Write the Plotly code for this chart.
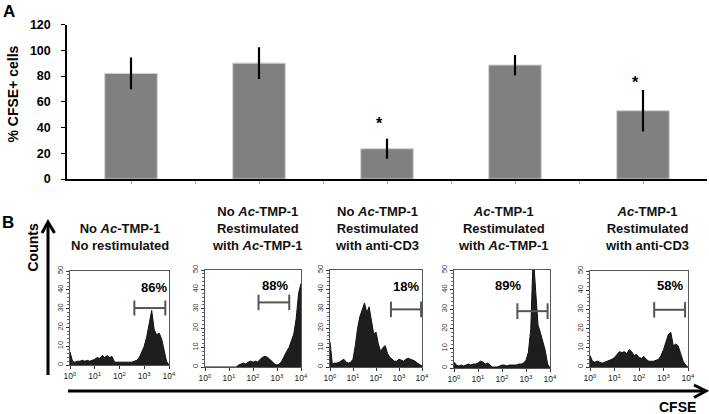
import plotly.graph_objects as go

W, H = 709, 414
FONT = "Arial, Liberation Sans, sans-serif"

# ---------------- Panel A data ----------------
groups = ["No Ac-TMP-1 / No restimulated",
          "No Ac-TMP-1 / Restimulated with Ac-TMP-1",
          "No Ac-TMP-1 / Restimulated with anti-CD3",
          "Ac-TMP-1 / Restimulated with Ac-TMP-1",
          "Ac-TMP-1 / Restimulated with anti-CD3"]
group_pos = [0, 1, 2, 3, 4]
pct_cfse = [82, 90, 23.5, 88.5, 53]
pct_err = [12.3, 12.3, 7.8, 7.9, 16.2]
star_level = [None, None, 43, None, 75]

# ---------------- Panel B data ----------------
cfse_log10 = [0.0, 0.1, 0.2, 0.3, 0.4, 0.5, 0.6, 0.7, 0.8, 0.9,
              1.0, 1.1, 1.2, 1.3, 1.4, 1.5, 1.6, 1.7, 1.8, 1.9,
              2.0, 2.1, 2.2, 2.3, 2.4, 2.5, 2.6, 2.7, 2.8, 2.9,
              3.0, 3.1, 3.2, 3.3, 3.4, 3.5, 3.6, 3.7, 3.8, 3.9, 4.0]
counts_p1 = [7, 2, 1.5, 2, 2, 2.5, 2, 2.5, 2, 2.5,
             3, 4, 3.5, 5, 4, 5, 4, 4.5, 1.5, 1.5,
             1.5, 1.5, 1.5, 1.5, 1.5, 1.5, 2, 2.5, 4, 7,
             10, 15, 22, 29, 19, 16, 17, 14, 8, 2, 0]
counts_p2 = [0, 0, 0, 0, 0, 0, 0, 0, 0, 0,
             0, 0, 0, 0, 1, 1.5, 2, 1.5, 2.5, 3,
             2.5, 3, 2.5, 4, 5, 5.5, 5, 4, 2.5, 1.5,
             1, 1.5, 3, 6, 8, 10, 14, 17, 25, 38, 43]
counts_p3 = [13, 1.5, 2, 2, 2.5, 3.5, 4, 2.5, 2, 2.5,
             4, 11, 20, 26, 30, 33, 28, 31, 24, 17,
             18, 12, 8, 10, 11, 7, 5, 4, 3, 3,
             4, 3.5, 3, 4, 4.5, 4, 3.5, 3, 2, 1, 0.5]
counts_p4 = [3, 1.5, 1, 1.5, 1, 1.5, 2, 1.5, 2, 2,
             2.5, 3.5, 3, 2, 2.5, 1.5, 0.5, 0.5, 0.5, 1,
             1.5, 1.5, 1, 1.5, 1.5, 1.5, 1.5, 2, 2, 2.5,
             4, 8, 20, 58, 40, 22, 18, 14, 9, 2, 0]
counts_p5 = [6, 3, 2.5, 3, 2.5, 2, 2.5, 3, 3.5, 4,
             5, 6.5, 8, 7.5, 8, 7, 9, 8, 6, 6.5,
             5, 4.5, 5.5, 4, 3, 3, 3, 3.5, 4, 6,
             9, 13, 17, 18, 11, 12, 11, 7, 3, 1, 0]
hist_counts = [counts_p1, counts_p2, counts_p3, counts_p4, counts_p5]

gate_lo = [2.6, 2.23, 2.65, 2.64, 2.62]
gate_hi = [3.85, 3.51, 3.96, 3.9, 3.88]
gate_level = [30.3, 33.3, 29.7, 29.0, 29.8]
gate_pct = ["86%", "88%", "18%", "89%", "58%"]
panel_titles = ["No <i>Ac</i>-TMP-1<br>No restimulated",
                "No <i>Ac</i>-TMP-1<br>Restimulated<br>with <i>Ac</i>-TMP-1",
                "No <i>Ac</i>-TMP-1<br>Restimulated<br>with anti-CD3",
                "<i>Ac</i>-TMP-1<br>Restimulated<br>with <i>Ac</i>-TMP-1",
                "<i>Ac</i>-TMP-1<br>Restimulated<br>with anti-CD3"]
decade_ticks = [0, 1, 2, 3, 4]
decade_text = ["10<sup>0</sup>", "10<sup>1</sup>", "10<sup>2</sup>", "10<sup>3</sup>", "10<sup>4</sup>"]
count_ticks = [0, 10, 20, 30, 40, 50]

# ---------------- layout geometry (pixels) ----------------
def px(x):
    return x / W

def py(y):
    return 1 - y / H

panel_x = [(70, 169), (205, 301), (330, 422), (454, 550), (590, 688)]
panel_y = [(271, 365), (270, 367), (270, 367), (270, 368), (271, 367)]
title_cx = [120, 257, 377, 503, 647]
pct_xy = [(154, 287), (275, 285), (406, 286), (508, 285), (670, 285)]

fig = go.Figure()

# Panel A bars
fig.add_trace(go.Bar(
    x=group_pos, y=pct_cfse, width=0.41,
    marker=dict(color="#808080", line=dict(color="#cfcfcf", width=1)),
    error_y=dict(type="data", array=pct_err, visible=True, thickness=2.2, width=0, color="#000"),
    hovertext=groups, showlegend=False, xaxis="x", yaxis="y"))

annotations = []
for i, s in enumerate(star_level):
    if s is not None:
        annotations.append(dict(x=group_pos[i] - 0.06, y=s, xref="x", yref="y", text="<b>*</b>",
                                showarrow=False, font=dict(family=FONT, size=16, color="#000"),
                                xanchor="center", yanchor="middle"))

layout = dict(
    template="none",
    width=W, height=H, margin=dict(l=0, r=0, t=0, b=0, autoexpand=False),
    paper_bgcolor="white", plot_bgcolor="white", showlegend=False,
    font=dict(family=FONT),
    xaxis=dict(domain=[px(67), px(707)], range=[-0.5, 4.5], showline=True, linecolor="#000", linewidth=2,
               tickvals=[0, 0.5, 1, 1.5, 2, 2.5, 3, 3.5, 4], ticks="outside", ticklen=3, tickcolor="#aaa",
               showticklabels=False, showgrid=False, zeroline=False, anchor="y", automargin=False),
    yaxis=dict(domain=[py(179), py(24.5)], range=[0, 120], dtick=20, showline=True, linecolor="#000",
               linewidth=1.5, ticks="outside", ticklen=4, tickcolor="#000", showgrid=False, zeroline=False,
               tickfont=dict(family=FONT, size=12.5, color="#000", weight="bold"), ticklabelstandoff=8,
               anchor="x", automargin=False),
)

shapes = []
for k in range(5):
    xa = "xaxis%d" % (k + 2)
    ya = "yaxis%d" % (k + 2)
    xr = "x%d" % (k + 2)
    yr = "y%d" % (k + 2)
    fig.add_trace(go.Scatter(x=cfse_log10, y=hist_counts[k], mode="lines", fill="tozeroy",
                             line=dict(color="#111", width=1), fillcolor="#1e1e1e",
                             xaxis=xr, yaxis=yr, showlegend=False))
    x0, x1 = panel_x[k]
    y0, y1 = panel_y[k]
    layout[xa] = dict(domain=[px(x0), px(x1)], range=[0, 4], anchor=yr, showline=True, mirror=True,
                      linecolor="#555", linewidth=1.2, tickvals=decade_ticks, ticktext=decade_text,
                      ticks="outside", ticklen=3, tickcolor="#333",
                      tickfont=dict(family=FONT, size=8.5, color="#222"), showgrid=False, zeroline=False,
                      automargin=False)
    layout[ya] = dict(domain=[py(y1), py(y0)], range=[0, 50], anchor=xr, showline=True, mirror=True,
                      linecolor="#555", linewidth=1.2, tickvals=count_ticks, ticks="outside", ticklen=3,
                      tickcolor="#333", tickangle=-90, tickfont=dict(family=FONT, size=7.5, color="#333"),
                      minor=dict(dtick=2, ticks="outside", ticklen=1.5, tickcolor="#666"),
                      showgrid=False, zeroline=False, automargin=False)
    gcol = "#555"
    shapes.append(dict(type="line", xref=xr, yref=yr, x0=gate_lo[k], x1=gate_hi[k],
                       y0=gate_level[k], y1=gate_level[k], line=dict(color=gcol, width=2)))
    for gx in (gate_lo[k], gate_hi[k]):
        shapes.append(dict(type="line", xref=xr, yref=yr, x0=gx, x1=gx,
                           y0=gate_level[k] - 4, y1=gate_level[k] + 4, line=dict(color=gcol, width=2)))
    annotations.append(dict(x=px(pct_xy[k][0]), y=py(pct_xy[k][1]), xref="paper", yref="paper",
                            text="<b>%s</b>" % gate_pct[k], showarrow=False,
                            font=dict(family=FONT, size=13, color="#000"),
                            xanchor="center", yanchor="middle"))
    annotations.append(dict(x=px(title_cx[k]), y=py(255), xref="paper", yref="paper",
                            text="<b>%s</b>" % panel_titles[k], showarrow=False, align="center",
                            font=dict(family=FONT, size=13, color="#111"),
                            xanchor="center", yanchor="bottom"))

annotations += [
    dict(x=px(8.5), y=py(11), xref="paper", yref="paper", text="<b>A</b>", showarrow=False,
         xanchor="center", yanchor="middle", font=dict(family=FONT, size=17, color="#000")),
    dict(x=px(12.5), y=py(94), xref="paper", yref="paper", text="<b>% CFSE+ cells</b>", showarrow=False,
         xanchor="center", yanchor="middle", textangle=-90, font=dict(family=FONT, size=14, color="#000")),
    dict(x=px(8), y=py(222), xref="paper", yref="paper", text="<b>B</b>", showarrow=False,
         xanchor="center", yanchor="middle", font=dict(family=FONT, size=17, color="#000")),
    dict(x=px(32.5), y=py(248), xref="paper", yref="paper", text="<b>Counts</b>", showarrow=False,
         xanchor="center", yanchor="middle", textangle=-90, font=dict(family=FONT, size=14, color="#000")),
    dict(x=px(677), y=py(407), xref="paper", yref="paper", text="<b>CFSE</b>", showarrow=False,
         xanchor="center", yanchor="middle", font=dict(family=FONT, size=14, color="#000")),
]
arrow_line = dict(color="#000", width=3)
shapes += [
    dict(type="line", xref="paper", yref="paper", x0=px(48), x1=px(48), y0=py(375), y1=py(223), line=arrow_line),
    dict(type="path", xref="paper", yref="paper",
         path="M %f %f L %f %f L %f %f" % (px(42), py(233), px(48), py(222), px(54.5), py(233)), line=arrow_line),
    dict(type="line", xref="paper", yref="paper", x0=px(68), x1=px(705), y0=py(391), y1=py(391), line=arrow_line),
    dict(type="path", xref="paper", yref="paper",
         path="M %f %f L %f %f L %f %f" % (px(694), py(385), px(706), py(391), px(694), py(397.5)), line=arrow_line),
]

layout["annotations"] = annotations
layout["shapes"] = shapes
fig.update_layout(**layout)
fig.write_html("out.html", config={"displayModeBar": False},
               post_script="document.body.style.margin='0';document.body.style.overflow='hidden';")
